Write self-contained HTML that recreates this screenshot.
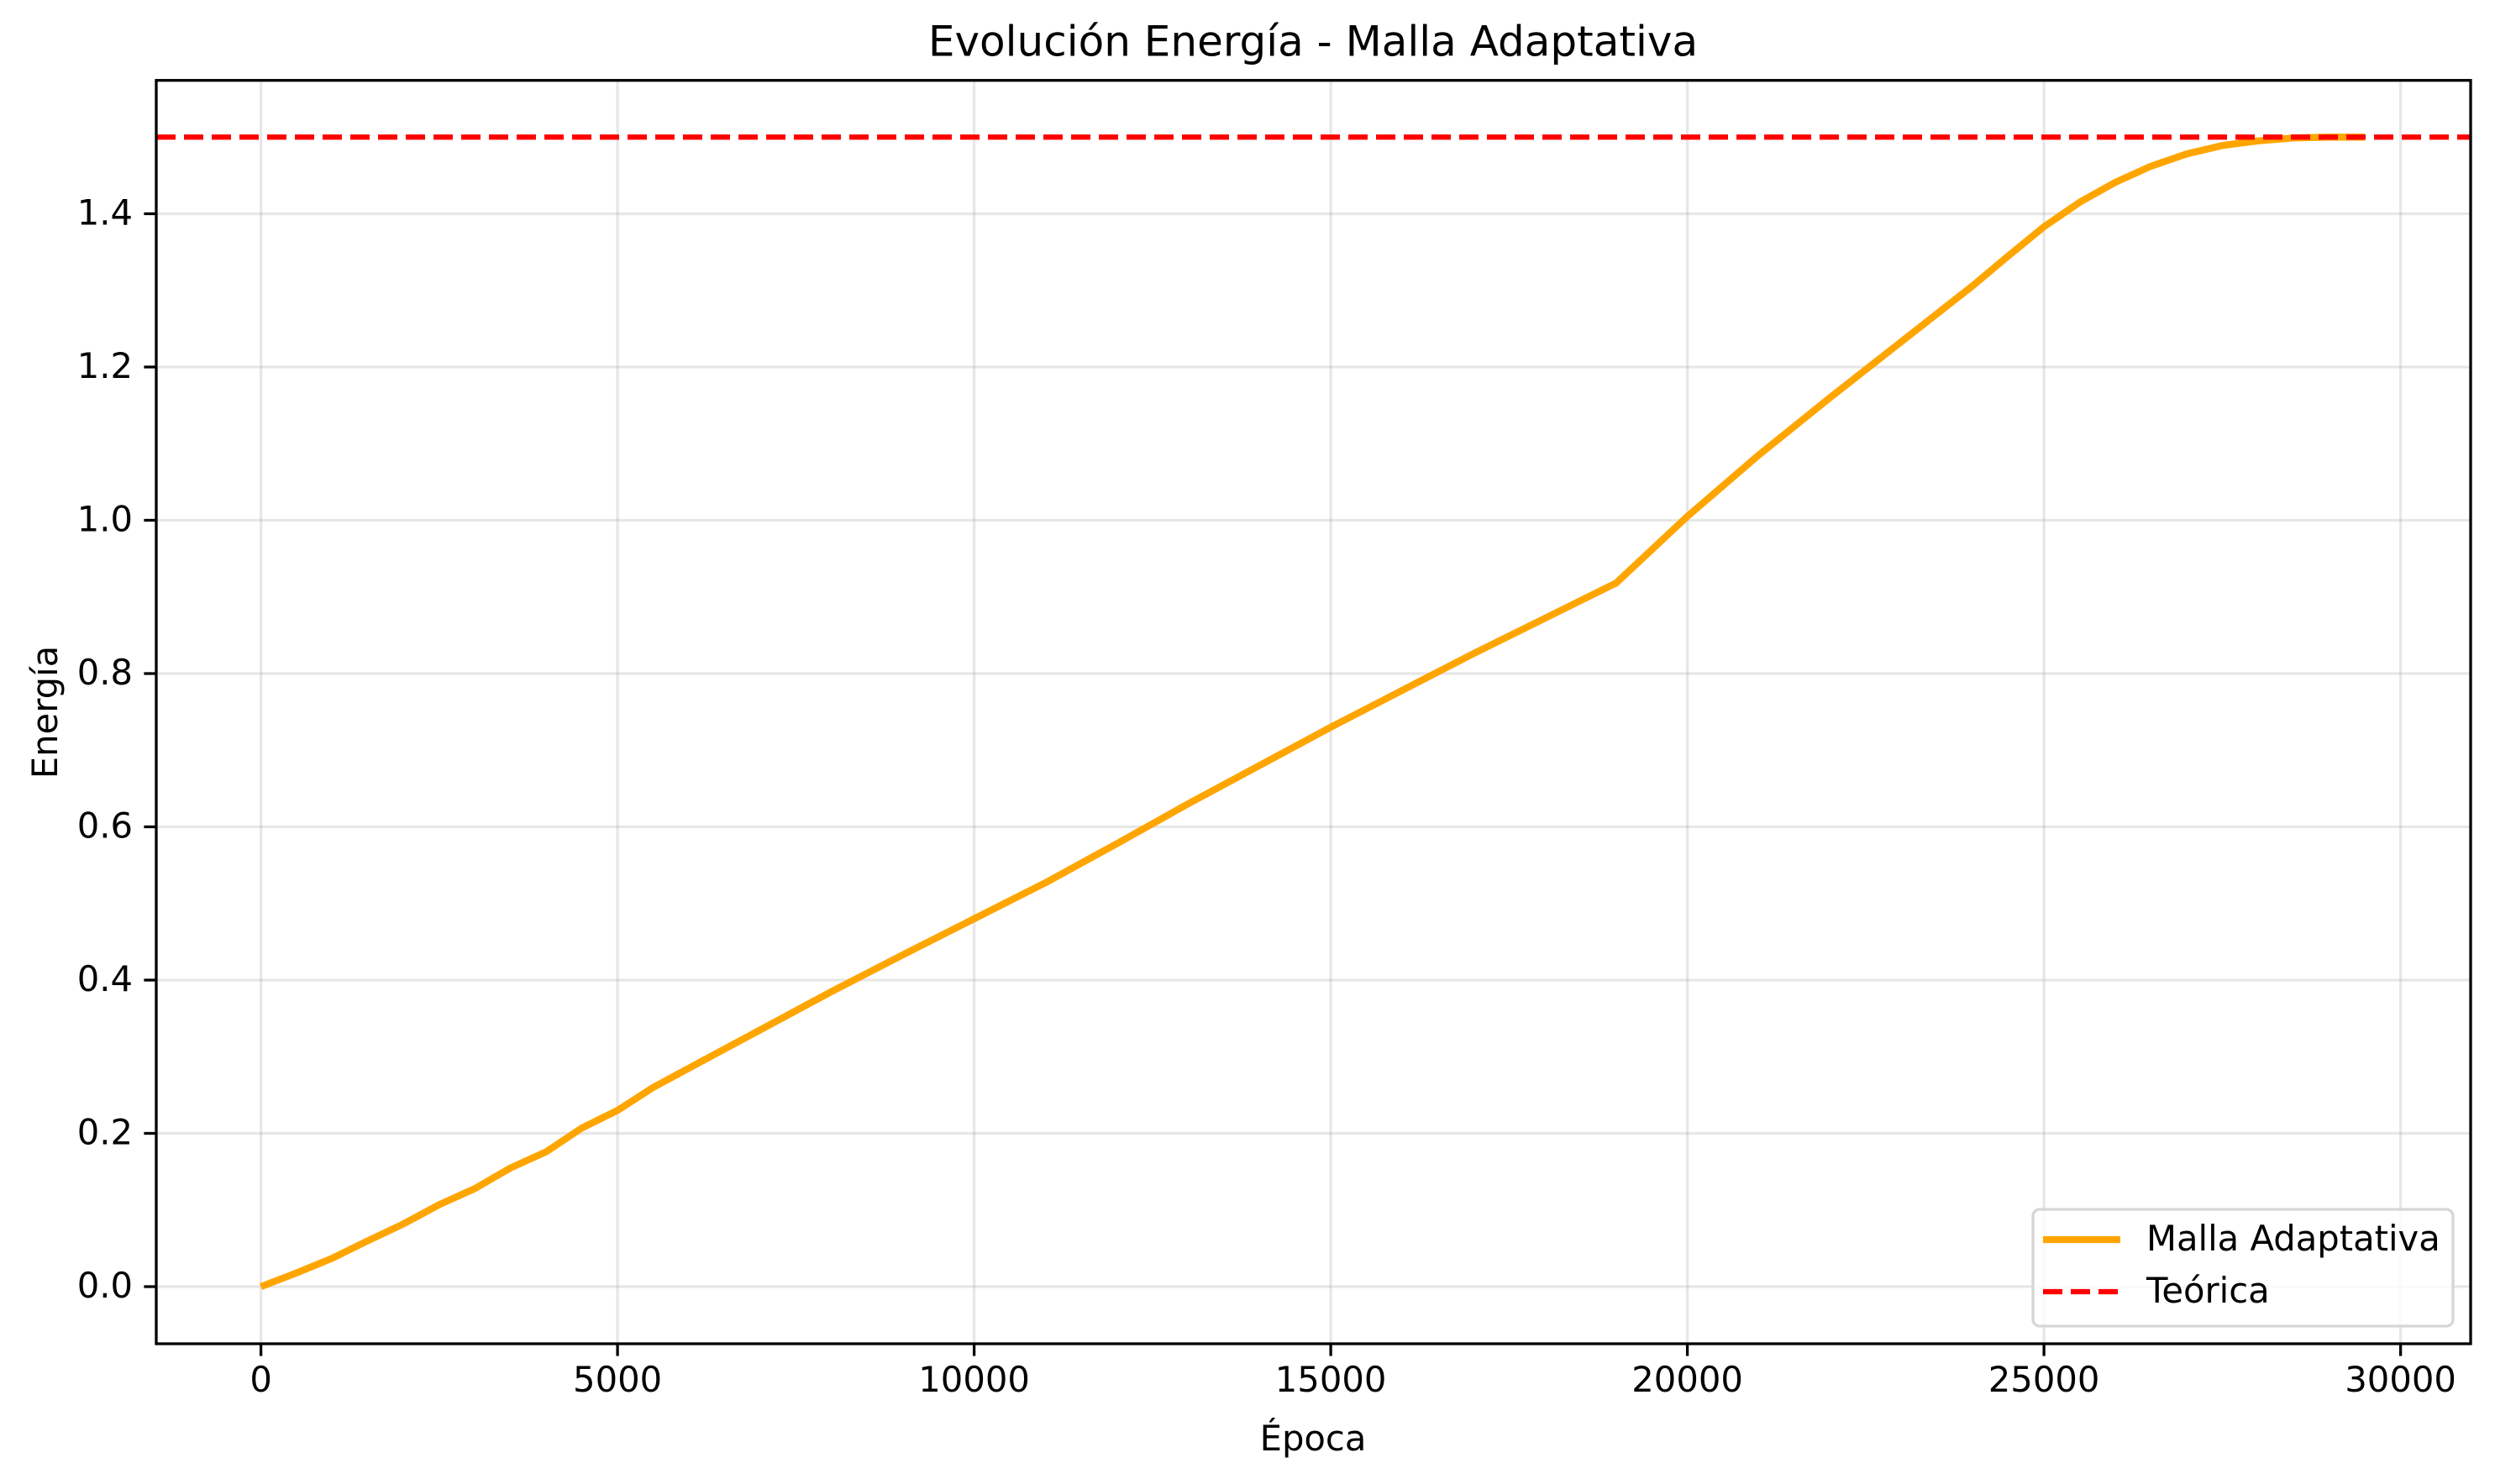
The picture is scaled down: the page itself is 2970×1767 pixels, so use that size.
<!DOCTYPE html>
<html><head><meta charset="utf-8">
<style>
html,body{margin:0;padding:0;background:#fff;}
svg{display:block;font-family:"DejaVu Sans","Liberation Sans",sans-serif;}
</style></head>
<body>
<svg id="chart" width="2970" height="1767" viewBox="0 0 2970 1767" xmlns="http://www.w3.org/2000/svg">
<rect width="2970" height="1767" fill="#fff"/>
<g id="grid"></g>
<g id="series"></g>
<rect x="186" y="95.7" width="2755" height="1504.3" fill="none" stroke="#000" stroke-width="3.3"/>
<g id="ticks"></g>
<text x="1563" y="53" font-size="50" text-anchor="middle" dominant-baseline="middle">Evolución Energía - Malla Adaptativa</text>
<text x="1563" y="1716" font-size="41.7" text-anchor="middle" dominant-baseline="middle">Época</text>
<text x="57" y="848" font-size="41.7" text-anchor="middle" dominant-baseline="middle" transform="rotate(-90 57 848)">Energía</text>
<g>
<rect x="2420" y="1440" width="500" height="139" rx="8" fill="#fff" fill-opacity="0.8" stroke="#d6d6d6" stroke-width="3.3"/>
<line x1="2432" y1="1476" x2="2524" y2="1476" stroke="#FFA500" stroke-width="8.3"/>
<text x="2555" y="1478" font-size="41.7" dominant-baseline="middle">Malla Adaptativa</text>
<line x1="2432" y1="1538" x2="2524" y2="1538" stroke="#FF0000" stroke-width="6.25" stroke-dasharray="23 10"/>
<text x="2555" y="1540" font-size="41.7" dominant-baseline="middle">Teórica</text>
</g>
</svg>
<script>
const epochs = [0,500,1000,1500,2000,2500,3000,3500,4000,4500,5000,5500,6000,7000,8000,9000,10000,11000,12000,13000,14000,15000,16000,17000,18000,19000,20000,21000,22000,23000,24000,24500,25000,25500,26000,26500,27000,27500,28000,28500,29000,29500];
const energy = [0,0.018,0.037,0.06,0.082,0.107,0.128,0.155,0.176,0.207,0.23,0.26,0.285,0.335,0.385,0.433,0.48,0.527,0.578,0.63,0.68,0.73,0.778,0.826,0.872,0.918,1.005,1.085,1.16,1.233,1.306,1.345,1.383,1.415,1.441,1.462,1.478,1.489,1.495,1.499,1.5,1.5];
const theoretical = 1.5;
const xTicks = [0,5000,10000,15000,20000,25000,30000];
const yTicks = [0.0,0.2,0.4,0.6,0.8,1.0,1.2,1.4];

const NS = "http://www.w3.org/2000/svg";
const X = v => 310.6 + v * (424.5/5000);
const Y = v => 1532 - v * (182.5/0.2);
function mk(tag, attrs, parent){const e=document.createElementNS(NS,tag);for(const k in attrs)e.setAttribute(k,attrs[k]);parent.appendChild(e);return e;}
const grid=document.getElementById('grid'), ticks=document.getElementById('ticks'), series=document.getElementById('series');

xTicks.forEach(t=>{
  const g=mk('line',{x1:X(t),x2:X(t),y1:95.7,y2:1600,stroke:'#b0b0b0','stroke-opacity':0.3,'stroke-width':3.3},grid);
  
  
  const tk=mk('line',{x1:X(t),x2:X(t),y1:1600,y2:1614.6,stroke:'#000','stroke-width':3.3},ticks);
  
  
  const lb=mk('text',{x:X(t),y:1646,'font-size':41.7,'text-anchor':'middle','dominant-baseline':'middle'},ticks);
  lb.textContent=String(t);
  
  
});
yTicks.forEach(t=>{
  const g=mk('line',{x1:186,x2:2941,y1:Y(t),y2:Y(t),stroke:'#b0b0b0','stroke-opacity':0.3,'stroke-width':3.3},grid);
  
  
  const tk=mk('line',{x1:171.4,x2:186,y1:Y(t),y2:Y(t),stroke:'#000','stroke-width':3.3},ticks);
  
  
  const lb=mk('text',{x:158,y:Y(t)+2,'font-size':41.7,'text-anchor':'end','dominant-baseline':'middle'},ticks);
  lb.textContent=t.toFixed(1);
  
  
});
const pts=epochs.map((e,i)=>X(e).toFixed(1)+','+Y(energy[i]).toFixed(1)).join(' ');
const pl=mk('polyline',{points:pts,fill:'none',stroke:'#FFA500','stroke-width':8.3,'stroke-linejoin':'round'},series);


const th=mk('line',{x1:186,x2:2941,y1:Y(theoretical),y2:Y(theoretical),stroke:'#FF0000','stroke-width':6.25,'stroke-dasharray':'23 10'},series);


</script>
</body></html>
